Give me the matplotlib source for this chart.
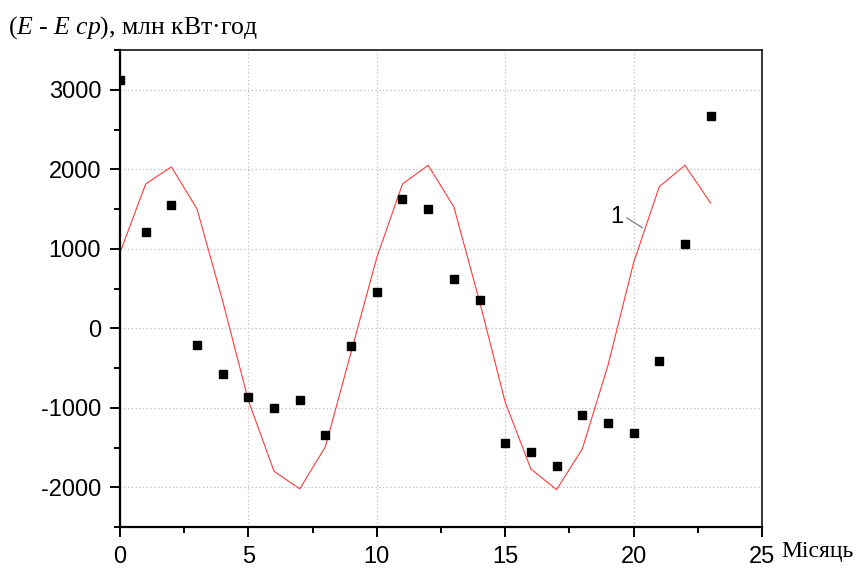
import matplotlib
matplotlib.use("Agg")
import matplotlib.pyplot as plt
from matplotlib.ticker import MultipleLocator

plt.rcParams['font.family'] = ['Liberation Sans', 'DejaVu Sans']
plt.rcParams['mathtext.fontset'] = 'custom'
plt.rcParams['mathtext.rm'] = 'Liberation Serif'
plt.rcParams['mathtext.it'] = 'Liberation Serif:italic'
plt.rcParams['axes.unicode_minus'] = False

# Monthly deviation of energy from its mean (measured) and model curve 1
months = list(range(24))
measured = [3125, 1210, 1545, -210, -570, -860, -1000, -905, -1340, -225,
            455, 1630, 1500, 625, 360, -1440, -1560, -1735, -1090, -1190,
            -1320, -415, 1055, 2675]
model = [950, 1815, 2030, 1500, 340, -910, -1800, -2020, -1490, -300,
         890, 1815, 2050, 1527, 340, -930, -1770, -2030, -1520, -470,
         825, 1780, 2050, 1575]

x_ticks = [0, 5, 10, 15, 20, 25]
y_ticks = [-2000, -1000, 0, 1000, 2000, 3000]

fig = plt.figure(figsize=(8.65, 5.68), dpi=100)
ax = fig.add_axes([120 / 865, 1 - 527 / 568, 642 / 865, 477 / 568])

ax.plot(months, model, color='#ff3b3b', lw=0.8, zorder=2)
ax.plot(months, measured, ls='none', marker='s', ms=6.2, color='black',
        zorder=3)

ax.set_xlim(0, 25)
ax.set_ylim(-2500, 3500)
ax.set_xticks(x_ticks)
ax.set_yticks(y_ticks)
ax.xaxis.set_minor_locator(MultipleLocator(2.5))
ax.yaxis.set_minor_locator(MultipleLocator(500))

ax.grid(True, which='major', ls=(0, (1, 2)), color='#bdbdbd', lw=0.9,
        zorder=0)

for side in ('left', 'bottom'):
    ax.spines[side].set_linewidth(1.6)
for side in ('top', 'right'):
    ax.spines[side].set_linewidth(1.1)

ax.tick_params(which='major', direction='out', length=7.5, width=1.4,
               labelsize=17, pad=6)
ax.tick_params(which='minor', direction='out', length=4, width=1.4)
ax.tick_params(top=False, right=False, which='both')

# curve label with leader
ax.text(19.35, 1405, '1', fontsize=17, ha='center', va='center')
ax.annotate('', xy=(20.35, 1263), xytext=(19.73, 1389),
            arrowprops=dict(arrowstyle='-', color='#707070', lw=0.8,
                            shrinkA=0, shrinkB=0))

fig.text(8 / 865, 1 - 28 / 568,
         r'($E$ - $E\ cp$), млн кВт·год',
         fontsize=18.5, family='Liberation Serif', ha='left', va='center')
fig.text(781 / 865, 1 - 552 / 568, 'Місяць', fontsize=17,
         family='Liberation Serif', ha='left', va='center')

fig.savefig('out.png', dpi=100)
